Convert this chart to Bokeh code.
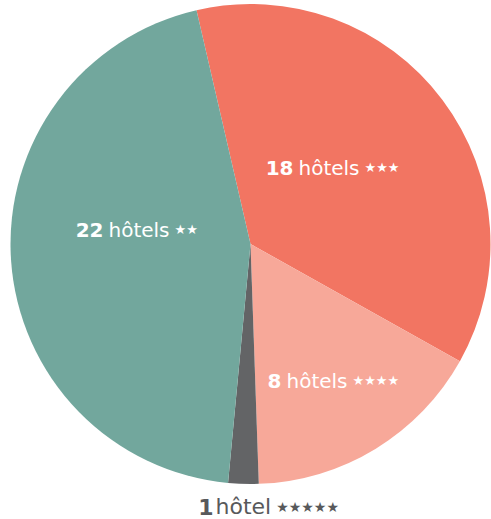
import math
from bokeh.plotting import figure
from bokeh.models import ColumnDataSource, Range1d
from bokeh.embed import file_html
from bokeh.resources import INLINE
from bokeh.core.properties import value

# ---- data (clockwise order, starting at the slice right of the top) ----
categories = ["3 étoiles", "4 étoiles", "5 étoiles", "2 étoiles"]
counts = [18, 8, 1, 22]
star_counts = [3, 4, 5, 2]

# ---- style / layout ----
colors = ["#F27562", "#F7A899", "#636466", "#72A79D"]
label_colors = ["#FFFFFF", "#FFFFFF", "#58595B", "#FFFFFF"]
start_deg = -13.0           # first boundary, degrees clockwise from 12 o'clock
W, H = 491, 519
cx, cy, R = 250, 275.5, 240   # pie centre and radius (screen px units)
BASE_FIX = 7                  # raise text so the baseline lands where intended
label_dx = [48, 36, -35, -142]            # left edge of the word, relative to centre
label_dy = [69.5, -143.5, -269.5, 7.5]    # baseline, relative to centre
word_sizes = [20, 20, 22, 20]
star_sizes = [13, 13, 14, 13]
num_gaps = [5, 5, 2, 5]
STAR_GAP = 5
FONT = "DejaVu Sans"

# approximate DejaVu Sans advance widths (em)
adv = {"h": 0.634, "ô": 0.612, "o": 0.612, "t": 0.392, "e": 0.615, "l": 0.278, "s": 0.521}


def text_width(s, size):
    return sum(adv.get(c, 0.6) for c in s) * size


total = sum(counts)
starts, ends = [], []
acc = start_deg
for c in counts:
    a0 = acc
    a1 = acc + c / total * 360.0
    starts.append(math.radians(90 - a0))
    ends.append(math.radians(90 - a1))
    acc = a1

words = ["hôtel" if c == 1 else "hôtels" for c in counts]
nums = [str(c) for c in counts]
stars = ["★" * n for n in star_counts]
ax = [cx + d for d in label_dx]
ay = [cy + d + BASE_FIX for d in label_dy]
star_off = [text_width(w, s) + STAR_GAP for w, s in zip(words, word_sizes)]
num_off = [-g for g in num_gaps]

src = ColumnDataSource(dict(
    cat=categories, count=counts, start=starts, end=ends, color=colors,
    word=words, num=nums, stars=stars, ax=ax, ay=ay, star_off=star_off,
    num_off=num_off, lcolor=label_colors,
    wsize=[f"{s}px" for s in word_sizes], ssize=[f"{s}px" for s in star_sizes],
))

p = figure(width=W, height=H, x_range=Range1d(0, W), y_range=Range1d(0, H),
           output_backend="svg", toolbar_location=None, min_border=0)
p.axis.visible = False
p.grid.visible = False
p.outline_line_color = None
p.background_fill_color = "white"
p.border_fill_color = "white"

p.wedge(x=cx, y=cy, radius=R, start_angle="start", end_angle="end",
        direction="clock", fill_color="color", line_color=None, source=src)

p.text(x="ax", y="ay", text="num", x_offset="num_off", text_align="right",
       text_baseline="alphabetic", text_font=value(FONT), text_font_style="bold",
       text_font_size="wsize", text_color="lcolor", source=src)
p.text(x="ax", y="ay", text="word", text_align="left",
       text_baseline="alphabetic", text_font=value(FONT),
       text_font_size="wsize", text_color="lcolor", source=src)
p.text(x="ax", y="ay", text="stars", x_offset="star_off", text_align="left",
       text_baseline="alphabetic", text_font=value(FONT),
       text_font_size="ssize", text_color="lcolor", source=src)

open("out.html", "w").write(file_html(p, INLINE))
